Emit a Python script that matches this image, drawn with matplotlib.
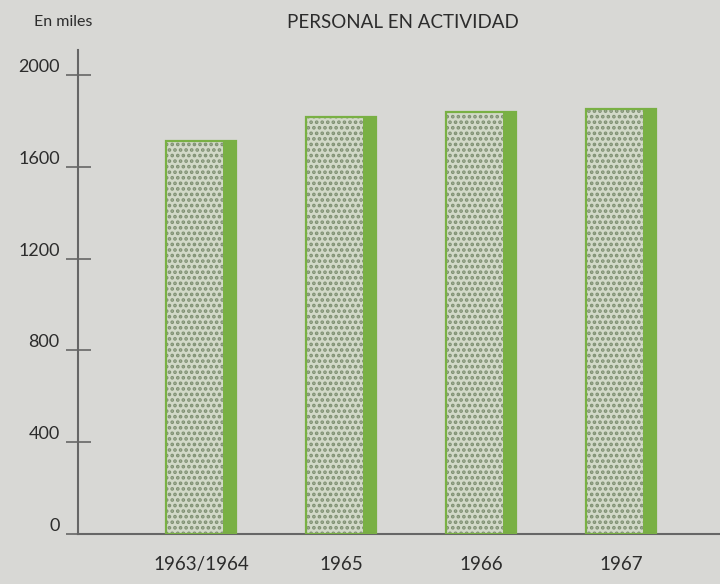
import numpy as np
import matplotlib.pyplot as plt

years = ['1963/1964', '1965', '1966', '1967']
personal = [1715, 1820, 1840, 1855]   # en miles
yticks = [0, 400, 800, 1200, 1600, 2000]

bg = '#d8d8d5'
green = '#79b044'
face = '#d2d9c8'
dots = '#7f9072'
ink = '#2c2c2c'

plt.rcParams['font.family'] = ['Lato', 'DejaVu Sans']
plt.rcParams['hatch.linewidth'] = 1.8

fig = plt.figure(figsize=(7.2, 5.84), dpi=100, facecolor=bg)
ax = fig.add_axes([0.108, 0.086, 0.892, 0.828], facecolor=bg)

x = np.arange(len(years))
w = 0.5
side = 0.09

# green side of each bar, then the dotted front face over it
ax.bar(x, personal, width=w, color=green, linewidth=0, zorder=2)
ax.bar(x - w / 2, personal, width=w - side, align='edge', color=face,
       hatch='...', edgecolor=dots, linewidth=0, zorder=3)
ax.bar(x, personal, width=w, fill=False, edgecolor=green,
       linewidth=1.6, zorder=4)

ax.set_xlim(-0.879, 3.707)
ax.set_ylim(0, 2110)

ax.set_xticks(x)
ax.set_xticklabels(years, fontsize=13.5, color=ink)
ax.tick_params(axis='x', length=0, pad=16)

ax.set_yticks(yticks)
ax.set_yticklabels([str(t) for t in yticks], fontsize=13, color=ink)
ax.tick_params(axis='y', direction='inout', length=18, width=1.2,
               color='#666666', pad=4)
for lbl in ax.get_yticklabels():
    lbl.set_verticalalignment('bottom')

for s in ['top', 'right']:
    ax.spines[s].set_visible(False)
for s in ['left', 'bottom']:
    ax.spines[s].set_color('#666666')
    ax.spines[s].set_linewidth(1.5)

fig.text(0.047, 0.962, 'En miles', fontsize=11.5, color=ink, va='center')
fig.text(0.56, 0.962, 'PERSONAL EN ACTIVIDAD', fontsize=13.5, color=ink,
         ha='center', va='center')

plt.savefig('out.png', facecolor=bg)
